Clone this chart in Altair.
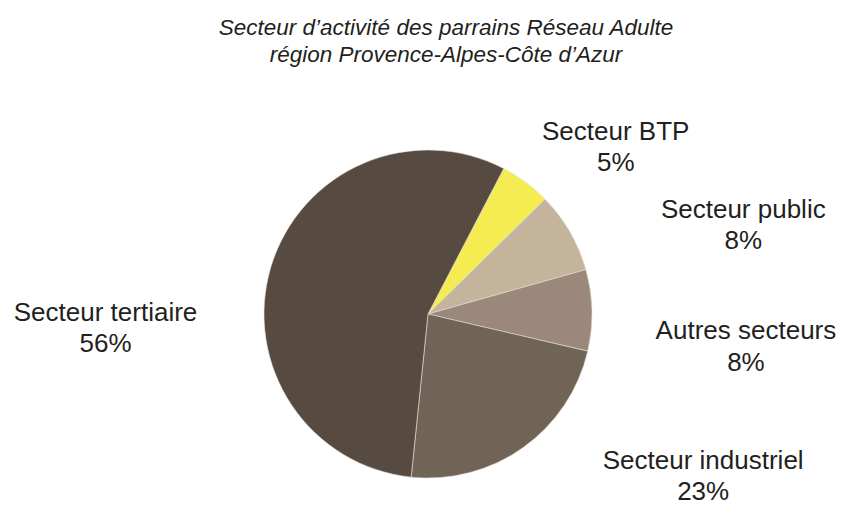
import math
import altair as alt
import pandas as pd

# ---- data ----
categories = ["Secteur BTP", "Secteur public", "Autres secteurs", "Secteur industriel", "Secteur tertiaire"]
values = [5, 8, 8, 23, 56]
colors = ["#f4ec50", "#c4b49b", "#9b887a", "#6f6455", "#574a41"]
title_lines = ["Secteur d\u2019activit\u00e9 des parrains R\u00e9seau Adulte",
               "r\u00e9gion Provence-Alpes-C\u00f4te d\u2019Azur"]

# ---- layout / style (not data) ----
START = math.radians(27.5)           # rotation of first slice
CX, CY = 420, 306                    # pie centre in view coords
R_PIE = 164
R_LABEL = 250
label_nudge = {                      # (dx, dy) from the polar anchor
    "Secteur BTP": (39, 27),
    "Secteur public": (99, 29),
    "Autres secteurs": (68, 31),
    "Secteur industriel": (130, -49),
    "Secteur tertiaire": (-83, 79),
}
FONT = "Liberation Sans"
TXT = "#231f20"

df = pd.DataFrame({"cat": categories, "val": values, "order": list(range(len(categories)))})
total = sum(values)
theta_scale = alt.Scale(domain=[0, total], range=[START, START + 2 * math.pi])

arc = alt.Chart(df).mark_arc(outerRadius=R_PIE, stroke="#e6e1da", strokeWidth=0.6).encode(
    theta=alt.Theta("val:Q", stack=True, scale=theta_scale),
    color=alt.Color("cat:N", scale=alt.Scale(domain=categories, range=colors), legend=None),
    order=alt.Order("order:Q"),
    x=alt.value(CX),
    y=alt.value(CY),
)

label_base = (
    alt.Chart(df)
    .transform_window(cum="sum(val)", sort=[alt.SortField("order")], frame=[None, 0])
    .transform_calculate(mid="datum.cum - datum.val / 2", label="[datum.cat, datum.val + '%']")
)

label_layers = []
for c in categories:
    dx, dy = label_nudge[c]
    label_layers.append(
        label_base.transform_filter(alt.datum.cat == c)
        .mark_text(radius=R_LABEL, dx=dx, dy=dy, align="center", baseline="alphabetic",
                   font=FONT, fontSize=26, lineHeight=31.3, color=TXT)
        .encode(
            theta=alt.Theta("mid:Q", stack=False, scale=theta_scale),
            text=alt.Text("label:N"),
            x=alt.value(CX),
            y=alt.value(CY),
        )
    )

title = alt.Chart(pd.DataFrame({"t": [0]})).mark_text(
    text=title_lines, align="center", baseline="alphabetic", font=FONT, fontSize=22.5,
    fontStyle="italic", lineHeight=26.7, color=TXT,
).encode(x=alt.value(438), y=alt.value(27))

chart = alt.layer(arc, *label_layers, title).properties(
    width=832, height=501, autosize=alt.AutoSizeParams(type="none"), padding=0
).configure_view(stroke=None)

chart.save("out.html", embed_options={"renderer": "svg", "actions": False})
